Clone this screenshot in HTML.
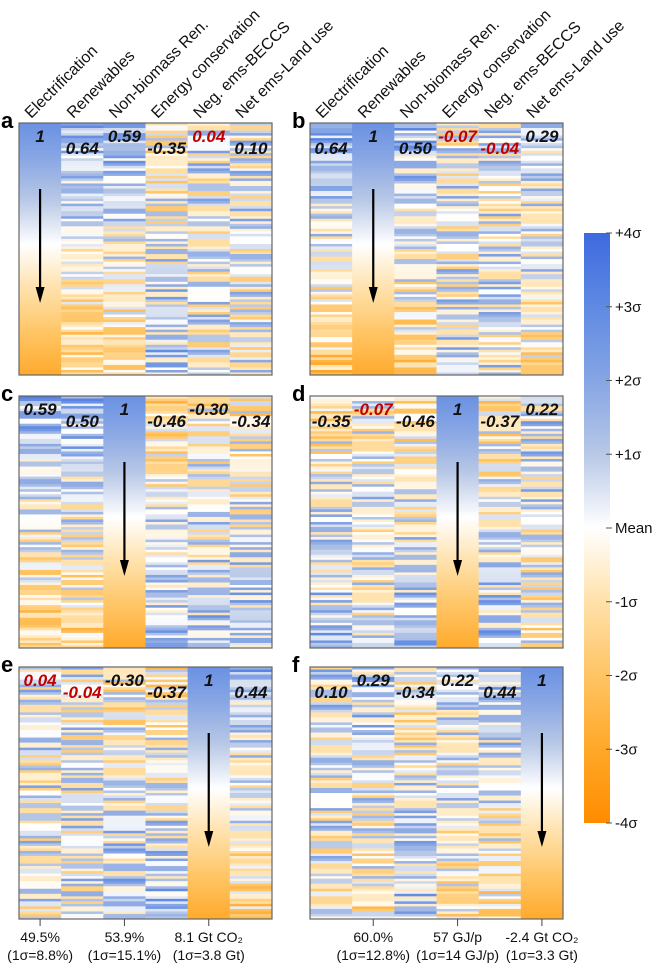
<!DOCTYPE html>
<html><head><meta charset="utf-8">
<style>
html,body{margin:0;padding:0;background:#fff;}
body{width:662px;height:963px;overflow:hidden;font-family:"Liberation Sans",sans-serif;}
svg{display:block}
</style></head>
<body>
<svg id="fig" width="662" height="963" viewBox="0 0 662 963" xmlns="http://www.w3.org/2000/svg"></svg>
<script>
const variables = ["Electrification","Renewables","Non-biomass Ren.","Energy conservation","Neg. ems-BECCS","Net ems-Land use"];
const corr = [
 [1, 0.64, 0.59, -0.35, 0.04, 0.10],
 [0.64, 1, 0.50, -0.07, -0.04, 0.29],
 [0.59, 0.50, 1, -0.46, -0.30, -0.34],
 [-0.35, -0.07, -0.46, 1, -0.37, 0.22],
 [0.04, -0.04, -0.30, -0.37, 1, 0.44],
 [0.10, 0.29, -0.34, 0.22, 0.44, 1]
];
const panelLetters = ["a","b","c","d","e","f"];
const labelHigh = [
 [1,0,1,0,1,0],[0,1,0,1,0,1],[1,0,1,0,1,0],[0,1,0,1,0,1],[1,0,1,0,1,0],[0,1,0,1,0,1]
];
const noiseStrings = [
 "435264738243516472835146372548316274583624173856247315846273",
 "534425364352746135426374851342637245136475234615372436514273",
 "346253417362543726154837264513627354826137452634175263485162",
 "453627145362715463827364152736451826374516273845162734561827",
 "624351736452813647253164738251463725184637251643728536142735",
 "352746315264738152436728154637241536728145263754163827451637"
];
const diagTop = 2.7, diagBottom = -2.9;
const bottomLabelsE = [["49.5%","(1σ=8.8%)",0],["53.9%","(1σ=15.1%)",2],["8.1 Gt CO₂","(1σ=3.8 Gt)",4]];
const bottomLabelsF = [["60.0%","(1σ=12.8%)",1],["57 GJ/p","(1σ=14 GJ/p)",3],["-2.4 Gt CO₂","(1σ=3.3 Gt)",5]];
const cbTicks = ["+4σ","+3σ","+2σ","+1σ","Mean","-1σ","-2σ","-3σ","-4σ"];
const cbValues = [4,3,2,1,0,-1,-2,-3,-4];

const NS="http://www.w3.org/2000/svg";
const svg=document.getElementById('fig');
function mk(t,a,parent){const e=document.createElementNS(NS,t);for(const k in a)e.setAttribute(k,a[k]);(parent||svg).appendChild(e);return e;}

const stops=[[4,[62,105,224]],[3,[95,138,226]],[2,[134,165,228]],[1,[184,200,230]],[0,[255,255,255]],[-1,[255,225,170]],[-2,[255,196,100]],[-3,[255,168,40]],[-4,[255,140,0]]];
function color(v){
  v=Math.max(-4,Math.min(4,v));
  for(let i=0;i<stops.length-1;i++){const a=stops[i],b=stops[i+1];
    if(v<=a[0]&&v>=b[0]){const t=(a[0]-v)/(a[0]-b[0]);
      const c=a[1].map((x,j)=>Math.round(x+(b[1][j]-x)*t));return `rgb(${c[0]},${c[1]},${c[2]})`;}}
  return '#fff';
}

const N=100, PW=253, PH=252;
const panelX=[19,310], panelY=[123,396,667];
function xCol(px,c){return px+c*PW/6;}
function yRow(py,i){return py+i*PH/N;}

for(let p=0;p<6;p++){
  const px=panelX[p%2], py=panelY[Math.floor(p/2)];
  const g=mk('g',{});
  
  
  for(let c=0;c<6;c++){
    const r=corr[p][c];
    const s=noiseStrings[(c+2*p)%6];
    for(let i=0;i<N;i++){
      const z=diagTop+(diagBottom-diagTop)*i/(N-1);
      const n=(parseInt(s.charAt((i*7+p*13+c*5)%s.length))-4)*0.55;
      const v=(c===p)?z:(r*z+Math.sqrt(1-r*r)*n);
      const cell=mk('rect',{x:xCol(px,c),y:yRow(py,i),width:PW/6+0.4,height:PH/N+0.4,fill:color(v)},g);
      
      
    }
  }
  const border=mk('rect',{x:px,y:py,width:PW,height:PH,fill:'none',stroke:'#666','stroke-width':1.2},g);
  
  
  const ax=xCol(px,p)+PW/12;
  const ln=mk('line',{x1:ax,y1:py+66,x2:ax,y2:py+168,stroke:'#000','stroke-width':2.2},g);
  
  
  const ah=mk('polygon',{points:`${ax-4.5},${py+164} ${ax+4.5},${py+164} ${ax},${py+180}`,fill:'#000'},g);
  
  
  const lt=mk('text',{x:px-18,y:py+5,'font-size':22,'font-weight':'bold','font-family':'Liberation Sans, sans-serif'},g);
  lt.textContent=panelLetters[p];
  
  
  for(let c=0;c<6;c++){
    const r=corr[p][c];
    const txt=(r===1)?'1':r.toFixed(2);
    const t=mk('text',{x:xCol(px,c)+PW/12,y:py+(labelHigh[p][c]?19:31),'text-anchor':'middle','font-size':17,'font-weight':'bold','font-style':'italic',fill:(Math.abs(r)<0.1?'#c00000':'#111'),'font-family':'Liberation Sans, sans-serif'},g);
    t.textContent=txt;
    
    
  }
  if(p<2){
    for(let c=0;c<6;c++){
      const hx=xCol(px,c)+PW/12-9, hy=119;
      const t=mk('text',{x:hx,y:hy,transform:`rotate(-45 ${hx} ${hy})`,'font-size':16,fill:'#111','font-family':'Liberation Sans, sans-serif'},g);
      t.textContent=variables[c];
      
      
    }
  }
}
function bottom(px,arr){
  arr.forEach(b=>{
    const cx=xCol(px,b[2])+PW/12;
    const tk=mk('line',{x1:cx,y1:919,x2:cx,y2:926,stroke:'#444','stroke-width':1});
    
    
    const t1=mk('text',{x:cx,y:942,'text-anchor':'middle','font-size':14,fill:'#111'});
    t1.textContent=b[0];
    
    
    const t2=mk('text',{x:cx,y:960,'text-anchor':'middle','font-size':14,fill:'#111'});
    t2.textContent=b[1];
    
    
  });
}
bottom(panelX[0],bottomLabelsE);
bottom(panelX[1],bottomLabelsF);
const cbX=584, cbW=26, cbTop=233, cbBot=823;
function yCb(v){return cbTop+(4-v)/8*(cbBot-cbTop);}
const defs=mk('defs',{});
const lg=mk('linearGradient',{id:'cbg',x1:0,y1:0,x2:0,y2:1},defs);
stops.forEach(s=>{mk('stop',{offset:((4-s[0])/8),'stop-color':color(s[0])},lg);});
const cb=mk('rect',{x:cbX,y:cbTop,width:cbW,height:cbBot-cbTop,fill:'url(#cbg)'});


cbValues.forEach((v,i)=>{
  const y=yCb(v);
  const tk=mk('line',{x1:cbX+22,y1:y,x2:cbX+28,y2:y,stroke:'#555','stroke-width':1});
  
  
  const t=mk('text',{x:cbX+31,y:y+5,'font-size':15,fill:'#111'});
  t.textContent=cbTicks[i];
  
  
});
</script>
</body></html>
